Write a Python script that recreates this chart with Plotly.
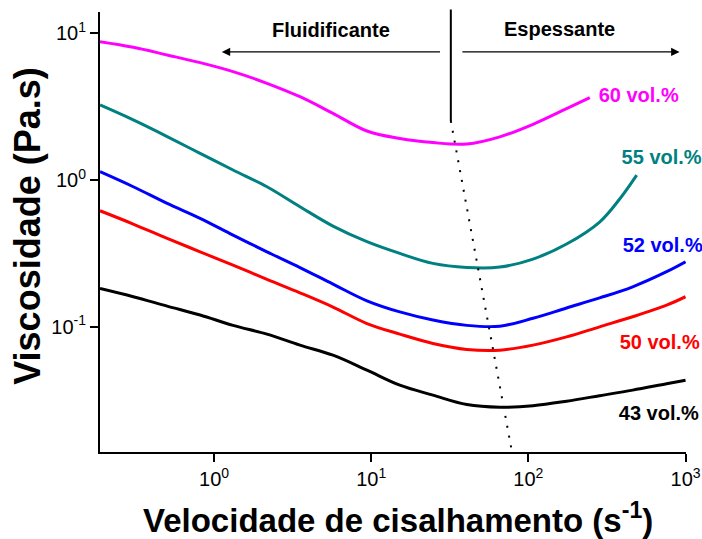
import math
import plotly.graph_objects as go

# ---------------- data ----------------
shear = [0.188, 0.306, 0.503, 0.815, 1.32, 2.17, 3.52, 5.71, 9.39, 15.2, 24.7, 40.6, 65.8,
         107, 175, 284, 461, 758, 1000]
visc_43 = [0.182, 0.160, 0.138, 0.120, 0.102, 0.0889, 0.0748, 0.0639, 0.0505, 0.0399, 0.0341,
           0.0294, 0.0282, 0.0289, 0.0310, 0.0338, 0.0369, 0.0408, 0.0431]
visc_50 = [0.617, 0.501, 0.400, 0.324, 0.263, 0.210, 0.170, 0.136, 0.105, 0.0889, 0.0768,
           0.0699, 0.0691, 0.0748, 0.0851, 0.0997, 0.1167, 0.140, 0.160]
visc_52 = [1.14, 0.900, 0.693, 0.548, 0.421, 0.324, 0.253, 0.195, 0.150, 0.126, 0.111,
           0.102, 0.1007, 0.114, 0.134, 0.157, 0.187, 0.237, 0.277]
shear_55 = [0.188, 0.306, 0.503, 0.815, 1.32, 2.17, 3.52, 5.71, 9.39, 15.2, 24.7, 40.6, 65.8,
            107, 175, 284, 381, 489]
visc_55 = [3.25, 2.57, 1.98, 1.52, 1.17, 0.900, 0.657, 0.485, 0.380, 0.316, 0.270,
           0.2535, 0.255, 0.289, 0.366, 0.517, 0.742, 1.08]
shear_60 = [0.188, 0.306, 0.503, 0.815, 1.32, 2.17, 3.52, 5.71, 9.39, 15.2, 24.7, 40.6, 65.8,
            107, 175, 246]
visc_60 = [8.79, 8.05, 7.13, 6.32, 5.49, 4.57, 3.70, 2.85, 2.16, 1.92, 1.80, 1.76, 1.97, 2.40, 3.07, 3.65]

series_names = ["43 vol.%", "50 vol.%", "52 vol.%", "55 vol.%", "60 vol.%"]
series_colors = ["#000000", "#FF0000", "#0000FF", "#008080", "#FF00FF"]
series_x = [shear, shear, shear, shear_55, shear_60]
series_y = [visc_43, visc_50, visc_52, visc_55, visc_60]

# label anchor positions (left edge, middle) in data units
label_x = [376, 381, 398, 392, 280]
label_y = [0.0249, 0.076, 0.351, 1.39, 3.69]

# transition line (thinning -> thickening)
trans_x = [32.1, 78.4]
trans_y = [2.53, 0.0142]
vline_x = 32.1
vline_y = [2.53, 14.9]

# arrows
arrow_y = 7.48
left_arrow = (28.0, 1.12)     # tail, head
right_arrow = (37.2, 916)
region_text = ["Fluidificante", "Espessante"]
region_x = [5.54, 158]
region_y = [10.3, 10.45]

tick_vals = [1, 10, 100, 1000]
tick_text = ["10<sup>0</sup>", "10<sup>1</sup>", "10<sup>2</sup>", "10<sup>3</sup>"]
ytick_vals = [0.1, 1, 10]
ytick_text = ["10<sup>-1</sup>", "10<sup>0</sup>", "10<sup>1</sup>"]

FONT = "Liberation Sans, Arial, sans-serif"

fig = go.Figure()
for name, col, xs, ys in zip(series_names, series_colors, series_x, series_y):
    fig.add_trace(go.Scatter(x=xs, y=ys, mode="lines", name=name,
                             line=dict(color=col, width=3, shape="spline", smoothing=1.0)))

fig.add_trace(go.Scatter(x=trans_x, y=trans_y, mode="lines",
                         line=dict(color="black", width=2, dash="2px,8px")))

for name, col, lx, ly in zip(series_names, series_colors, label_x, label_y):
    fig.add_trace(go.Scatter(x=[lx], y=[ly], mode="text", text=["<b>" + name + "</b>"],
                             textposition="middle right",
                             textfont=dict(color=col, size=20, family=FONT),
                             cliponaxis=False))

for t, tx, ty in zip(region_text, region_x, region_y):
    fig.add_trace(go.Scatter(x=[tx], y=[ty], mode="text", text=["<b>" + t + "</b>"],
                             textposition="middle center",
                             textfont=dict(color="black", size=20, family=FONT),
                             cliponaxis=False))

L = math.log10
# vertical solid line
fig.add_annotation(x=L(vline_x), y=L(vline_y[0]), ax=L(vline_x), ay=L(vline_y[1]),
                   xref="x", yref="y", axref="x", ayref="y", text="",
                   showarrow=True, arrowhead=0, arrowwidth=2, arrowcolor="black")
for tail, head in [left_arrow, right_arrow]:
    fig.add_annotation(x=L(head), y=L(arrow_y), ax=L(tail), ay=L(arrow_y),
                       xref="x", yref="y", axref="x", ayref="y", text="",
                       showarrow=True, arrowhead=2, arrowsize=1.4, arrowwidth=1.2,
                       arrowcolor="black")

# axis titles
fig.add_annotation(x=0.509, y=-0.15, xref="paper", yref="paper", showarrow=False,
                   xanchor="center", yanchor="middle",
                   text="<b>Velocidade de cisalhamento (s<sup>-1</sup>)</b>",
                   font=dict(size=33, color="black", family=FONT))
fig.add_annotation(x=-0.123, y=0.514, xref="paper", yref="paper", showarrow=False,
                   xanchor="center", yanchor="middle",
                   text="<b>Viscosidade (Pa.s)</b>", textangle=-90,
                   font=dict(size=36, color="black", family=FONT))

fig.update_xaxes(type="log", range=[math.log10(0.188), 3.003], automargin=False,
                 showline=True, linecolor="black", linewidth=2,
                 ticks="outside", ticklen=8, tickwidth=2, tickcolor="black",
                 tickvals=tick_vals, ticktext=tick_text,
                 tickfont=dict(size=20, color="black", family=FONT),
                 showgrid=False, zeroline=False, mirror=False)
fig.update_yaxes(type="log", range=[math.log10(0.01396), math.log10(14.0)], automargin=False,
                 showline=True, linecolor="black", linewidth=2,
                 ticks="outside", ticklen=8, tickwidth=2, tickcolor="black",
                 tickvals=ytick_vals, ticktext=ytick_text,
                 tickfont=dict(size=20, color="black", family=FONT),
                 showgrid=False, zeroline=False, mirror=False)

fig.update_layout(width=702, height=539,
                  margin=dict(l=100, r=16, t=12, b=87),
                  paper_bgcolor="white", plot_bgcolor="white",
                  showlegend=False, font=dict(family=FONT, color="black"))

fig.write_html("out.html")
